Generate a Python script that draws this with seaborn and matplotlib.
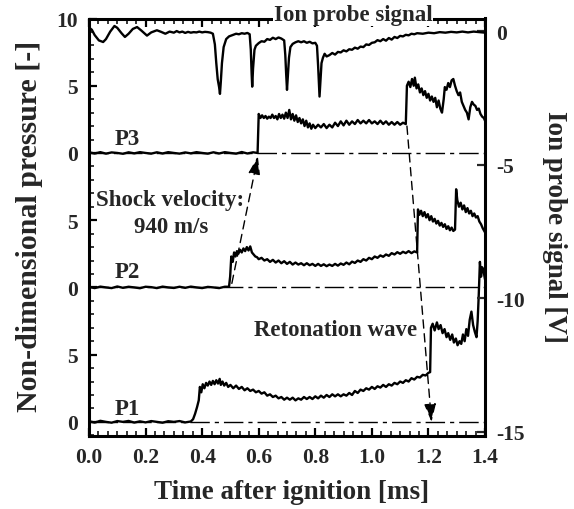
import numpy as np
import pandas as pd
import matplotlib
matplotlib.use("Agg")
import matplotlib.pyplot as plt
import matplotlib.transforms as mtransforms
from matplotlib.ticker import AutoMinorLocator, FixedLocator
import seaborn as sns

# ---------------- data ----------------
# time [ms], non-dimensional pressure (relative to each trace's own zero)
P1_POINTS = [
    (0.00, 0.05), (0.02, -0.05), (0.04, 0.08), (0.06, 0.0), (0.08, -0.06), (0.10, 0.06), (0.12, 0.0),
    (0.14, 0.07), (0.16, -0.05), (0.18, 0.04), (0.20, -0.04), (0.22, 0.06), (0.24, 0.0), (0.26, -0.06),
    (0.28, 0.05), (0.30, 0.0), (0.32, 0.06), (0.34, -0.04), (0.36, 0.03),
    (0.368, 0.2), (0.375, 0.6), (0.382, 1.1), (0.388, 1.6), (0.392, 2.6), (0.397, 2.2), (0.402, 2.8),
    (0.408, 2.5), (0.414, 2.9), (0.42, 2.7), (0.426, 3.0), (0.432, 2.75), (0.438, 3.05), (0.444, 2.8),
    (0.45, 3.1), (0.456, 2.85), (0.462, 3.2), (0.466, 2.75), (0.472, 3.0), (0.478, 2.7), (0.485, 2.9),
    (0.492, 2.6),
    (0.50, 2.75), (0.51, 2.5), (0.52, 2.7), (0.53, 2.45), (0.54, 2.6), (0.55, 2.35), (0.56, 2.5),
    (0.57, 2.3), (0.58, 2.4), (0.59, 2.2), (0.60, 2.3), (0.61, 2.1), (0.62, 2.2), (0.63, 1.95),
    (0.64, 2.05), (0.65, 1.85), (0.66, 1.95), (0.67, 1.75), (0.68, 1.85), (0.69, 1.65), (0.70, 1.8),
    (0.71, 1.65), (0.72, 1.8), (0.73, 1.6), (0.74, 1.75), (0.75, 1.65), (0.76, 1.85), (0.77, 1.7),
    (0.78, 1.85), (0.79, 1.7), (0.80, 1.9), (0.81, 1.75), (0.82, 1.95), (0.83, 1.8), (0.84, 2.0),
    (0.85, 1.85), (0.86, 2.05), (0.87, 1.9), (0.88, 2.05), (0.89, 1.9), (0.90, 2.05), (0.91, 1.95),
    (0.92, 2.15), (0.93, 2.0), (0.94, 2.3), (0.95, 2.15), (0.96, 2.4), (0.97, 2.3), (0.98, 2.5),
    (0.99, 2.4), (1.00, 2.6), (1.01, 2.45), (1.02, 2.65), (1.03, 2.55), (1.04, 2.75), (1.05, 2.6),
    (1.06, 2.8), (1.07, 2.7), (1.08, 2.9), (1.09, 2.8), (1.10, 3.0), (1.11, 2.9), (1.12, 3.1),
    (1.13, 3.0), (1.14, 3.25), (1.15, 3.15), (1.16, 3.35), (1.17, 3.3), (1.18, 3.5), (1.19, 3.45),
    (1.20, 3.65),
    (1.206, 3.7), (1.209, 7.0), (1.215, 7.3), (1.222, 6.8), (1.23, 7.4), (1.236, 6.9), (1.243, 7.2),
    (1.25, 6.6), (1.257, 6.9), (1.264, 6.3), (1.27, 6.6), (1.277, 6.1), (1.284, 6.5), (1.29, 5.9),
    (1.297, 6.2), (1.303, 5.7), (1.31, 6.0), (1.316, 5.8), (1.322, 6.5), (1.328, 6.0), (1.334, 6.9),
    (1.34, 6.4), (1.346, 7.6), (1.352, 8.2), (1.358, 7.2), (1.364, 6.7), (1.37, 6.3), (1.374, 7.5),
    (1.378, 9.5), (1.382, 11.9), (1.386, 10.8), (1.39, 11.5), (1.395, 11.2), (1.40, 10.6),
]

P2_POINTS = [
    (0.00, 0.04), (0.02, -0.05), (0.04, 0.06), (0.06, 0.0), (0.08, -0.05), (0.10, 0.07), (0.12, -0.03),
    (0.14, 0.05), (0.16, 0.0), (0.18, -0.06), (0.20, 0.05), (0.22, 0.02), (0.24, -0.05), (0.26, 0.06),
    (0.28, 0.0), (0.30, -0.04), (0.32, 0.05), (0.34, -0.03), (0.36, 0.06), (0.38, 0.0), (0.40, -0.05),
    (0.42, 0.04), (0.44, 0.0), (0.46, -0.05), (0.48, 0.05),
    (0.495, 0.05), (0.499, 0.8), (0.503, 2.3), (0.508, 1.9), (0.513, 2.6), (0.518, 2.3), (0.523, 2.7),
    (0.528, 2.5), (0.534, 2.8), (0.54, 2.6), (0.546, 2.9), (0.552, 2.7), (0.558, 3.0), (0.564, 2.75),
    (0.57, 3.05), (0.576, 2.6), (0.582, 2.45), (0.588, 2.3), (0.594, 2.25),
    (0.60, 2.1), (0.61, 2.2), (0.62, 2.0), (0.63, 2.1), (0.64, 1.9), (0.65, 2.05), (0.66, 1.85),
    (0.67, 2.0), (0.68, 1.8), (0.69, 1.95), (0.70, 1.75), (0.71, 1.9), (0.72, 1.7), (0.73, 1.85),
    (0.74, 1.7), (0.75, 1.8), (0.76, 1.65), (0.77, 1.8), (0.78, 1.65), (0.79, 1.75), (0.80, 1.6),
    (0.81, 1.75), (0.82, 1.6), (0.83, 1.72), (0.84, 1.58), (0.85, 1.7), (0.86, 1.6), (0.87, 1.75),
    (0.88, 1.62), (0.89, 1.78), (0.90, 1.68), (0.91, 1.85), (0.92, 1.72), (0.93, 1.92), (0.94, 1.82),
    (0.95, 2.0), (0.96, 1.9), (0.97, 2.1), (0.98, 2.0), (0.99, 2.2), (1.00, 2.1), (1.01, 2.3),
    (1.02, 2.2), (1.03, 2.38), (1.04, 2.28), (1.05, 2.45), (1.06, 2.35), (1.07, 2.55), (1.08, 2.45),
    (1.09, 2.62), (1.10, 2.5), (1.11, 2.65), (1.12, 2.55), (1.13, 2.7), (1.14, 2.55), (1.15, 2.68),
    (1.16, 2.6),
    (1.163, 5.8), (1.168, 5.4), (1.174, 5.7), (1.18, 5.3), (1.186, 5.6), (1.192, 5.2), (1.198, 5.45),
    (1.204, 5.0), (1.21, 5.3), (1.216, 4.9), (1.222, 5.1), (1.228, 4.75), (1.234, 4.95), (1.24, 4.6),
    (1.246, 4.8), (1.252, 4.5), (1.258, 4.7), (1.264, 4.35), (1.27, 4.55), (1.276, 4.25), (1.282, 4.45),
    (1.288, 4.2), (1.294, 4.3), (1.298, 7.3), (1.302, 6.5), (1.308, 6.0), (1.314, 6.3), (1.32, 5.8),
    (1.326, 6.1), (1.332, 5.6), (1.338, 5.9), (1.344, 5.5), (1.35, 5.7), (1.356, 5.3), (1.362, 5.5),
    (1.368, 5.2), (1.374, 5.3), (1.38, 4.9), (1.386, 4.7), (1.392, 4.4), (1.40, 4.1),
]

P3_POINTS = [
    (0.00, 0.05), (0.02, -0.04), (0.04, 0.06), (0.06, -0.05), (0.08, 0.04), (0.10, 0.0), (0.12, -0.06),
    (0.14, 0.05), (0.16, -0.03), (0.18, 0.06), (0.20, 0.0), (0.22, -0.05), (0.24, 0.05), (0.26, -0.04),
    (0.28, 0.06), (0.30, 0.0), (0.32, -0.05), (0.34, 0.04), (0.36, -0.03), (0.38, 0.06), (0.40, 0.0),
    (0.42, -0.05), (0.44, 0.05), (0.46, -0.04), (0.48, 0.06), (0.50, 0.0), (0.52, -0.05), (0.54, 0.07),
    (0.56, -0.04), (0.58, 0.05), (0.596, 0.0),
    (0.60, 2.9), (0.606, 2.6), (0.612, 2.8), (0.618, 2.6), (0.624, 2.75), (0.63, 2.55), (0.636, 2.7),
    (0.642, 2.6), (0.648, 2.85), (0.654, 2.6), (0.66, 2.75), (0.666, 2.5), (0.672, 2.9), (0.678, 2.6),
    (0.684, 2.85), (0.69, 2.55), (0.696, 3.0), (0.702, 2.6), (0.708, 3.2), (0.714, 2.5), (0.72, 2.9),
    (0.726, 2.4), (0.732, 2.8), (0.738, 2.3), (0.744, 2.6), (0.75, 2.2), (0.756, 2.5), (0.762, 2.0),
    (0.768, 2.4), (0.774, 1.9), (0.78, 2.2), (0.786, 1.8), (0.792, 2.1), (0.80, 1.85), (0.81, 2.1),
    (0.82, 1.9), (0.83, 2.15), (0.84, 1.85), (0.85, 2.1), (0.86, 1.9), (0.87, 2.25), (0.88, 2.0),
    (0.89, 2.35), (0.90, 2.05), (0.91, 2.4), (0.92, 2.1), (0.93, 2.35), (0.94, 2.15), (0.95, 2.45),
    (0.96, 2.2), (0.97, 2.4), (0.98, 2.2), (0.99, 2.45), (1.00, 2.2), (1.01, 2.35), (1.02, 2.15),
    (1.03, 2.4), (1.04, 2.15), (1.05, 2.35), (1.06, 2.1), (1.07, 2.3), (1.08, 2.1), (1.09, 2.3),
    (1.10, 2.1), (1.11, 2.25), (1.12, 2.15),
    (1.124, 5.0), (1.13, 5.3), (1.136, 4.9), (1.142, 5.5), (1.148, 5.0), (1.152, 5.6), (1.158, 4.8),
    (1.164, 5.1), (1.17, 4.5), (1.176, 4.8), (1.182, 4.3), (1.188, 4.6), (1.194, 4.1), (1.20, 4.4),
    (1.206, 3.9), (1.212, 4.2), (1.218, 3.8), (1.224, 4.1), (1.23, 3.4), (1.236, 3.9), (1.242, 3.3),
    (1.248, 3.0), (1.254, 4.0), (1.258, 4.9), (1.264, 4.7), (1.27, 5.2), (1.276, 4.9), (1.282, 5.4),
    (1.288, 5.5), (1.294, 5.0), (1.30, 4.6), (1.306, 4.3), (1.312, 4.5), (1.318, 3.8), (1.324, 3.5),
    (1.33, 3.2), (1.336, 3.0), (1.342, 2.5), (1.348, 3.4), (1.354, 3.8), (1.36, 3.6), (1.366, 3.5),
    (1.372, 3.2), (1.378, 3.3), (1.384, 2.9), (1.39, 2.7), (1.396, 2.6), (1.40, 2.4),
]

# time [ms], ion probe signal [V]
ION_POINTS = [
    (0.00, 0.13), (0.01, 0.05), (0.02, -0.15), (0.035, -0.35), (0.05, -0.41), (0.06, -0.3), (0.075, -0.02),
    (0.09, 0.19), (0.10, 0.12), (0.115, -0.08), (0.127, -0.22), (0.14, -0.1), (0.155, 0.08), (0.17, 0.15),
    (0.185, 0.02), (0.205, -0.17), (0.22, -0.05), (0.24, 0.03), (0.255, -0.03), (0.27, -0.1), (0.285, -0.02),
    (0.30, -0.06), (0.31, 0.0), (0.32, -0.05), (0.33, -0.02), (0.34, -0.07), (0.35, -0.03), (0.36, -0.06),
    (0.37, -0.04), (0.38, -0.05), (0.39, -0.02), (0.40, -0.05), (0.41, -0.03), (0.42, -0.04), (0.43, -0.06),
    (0.438, -0.1), (0.445, -0.5), (0.45, -1.2), (0.455, -1.8), (0.46, -2.1), (0.463, -2.35), (0.466, -1.9),
    (0.47, -1.2), (0.476, -0.6), (0.485, -0.3), (0.495, -0.2), (0.51, -0.14), (0.52, -0.1), (0.53, -0.12),
    (0.54, -0.08), (0.55, -0.1), (0.56, -0.07), (0.568, -0.12), (0.572, -0.7), (0.575, -1.6), (0.577, -2.08),
    (0.58, -1.4), (0.585, -0.7), (0.59, -0.55), (0.60, -0.45), (0.61, -0.38), (0.62, -0.4), (0.63, -0.3),
    (0.64, -0.33), (0.65, -0.25), (0.66, -0.3), (0.67, -0.24), (0.68, -0.28), (0.69, -0.35), (0.694, -0.9),
    (0.697, -1.6), (0.70, -2.2), (0.703, -1.7), (0.707, -1.0), (0.712, -0.6), (0.72, -0.48), (0.73, -0.42),
    (0.74, -0.38), (0.75, -0.42), (0.76, -0.38), (0.77, -0.44), (0.78, -0.4), (0.79, -0.46), (0.80, -0.44),
    (0.806, -0.55), (0.81, -1.3), (0.813, -2.0), (0.815, -2.45), (0.818, -1.9), (0.822, -1.2), (0.827, -1.0),
    (0.833, -0.85), (0.84, -0.95), (0.85, -0.9), (0.86, -0.82), (0.87, -0.88), (0.88, -0.78), (0.89, -0.8),
    (0.90, -0.72), (0.91, -0.76), (0.92, -0.68), (0.93, -0.7), (0.94, -0.62), (0.95, -0.66), (0.96, -0.58),
    (0.97, -0.6), (0.98, -0.5), (0.99, -0.52), (1.00, -0.44), (1.01, -0.42), (1.02, -0.34), (1.03, -0.38),
    (1.04, -0.3), (1.05, -0.36), (1.06, -0.26), (1.07, -0.32), (1.08, -0.22), (1.09, -0.26), (1.10, -0.18),
    (1.11, -0.2), (1.12, -0.14), (1.13, -0.16), (1.14, -0.1), (1.15, -0.12), (1.16, -0.08), (1.18, -0.1),
    (1.20, -0.06), (1.22, -0.08), (1.24, -0.04), (1.26, -0.06), (1.28, -0.03), (1.30, -0.05), (1.32, -0.02),
    (1.34, -0.05), (1.36, -0.02), (1.38, -0.04), (1.40, -0.06),
]

TRACE_NAMES = ["P1", "P2", "P3"]
TRACE_OFFSETS = [0, 10, 20]          # vertical stacking of the pressure traces
TRACE_LABEL_POS = [(0.136, 0.97), (0.136, 11.15), (0.136, 21.05)]

LEFT_TICKS = [0, 5, 10, 15, 20, 25, 30]
LEFT_TICK_LABELS = ["0", "5", "0", "5", "0", "5", "10"]
RIGHT_TICKS = [0, -5, -10, -15]
X_TICKS = [0.0, 0.2, 0.4, 0.6, 0.8, 1.0, 1.2, 1.4]

SHOCK_ARROW = [(0.505, 10.3), (0.597, 19.75)]
RETONATION_ARROW = [(1.124, 22.0), (1.211, 0.0)]

# ---------------- style ----------------
sns.set_style("ticks")
plt.rcParams["font.family"] = ["Liberation Serif", "DejaVu Serif"]
plt.rcParams["font.weight"] = "bold"
plt.rcParams["axes.labelweight"] = "bold"

W, H = 574, 510
fig = plt.figure(figsize=(W / 100, H / 100), dpi=100)
ax = fig.add_axes([89 / W, 1 - 437 / H, 396 / W, (437 - 19.5) / H])
ax2 = ax.twinx()

ax.set_xlim(0, 1.4)
ax.set_ylim(-1.05, 30)
ax2.set_ylim(-15.15, 0.47)

# dash-dot zero lines of each pressure trace
for off in TRACE_OFFSETS:
    ax.axhline(off, color="k", lw=1.0, dashes=(14, 3.6, 3, 3.6), zorder=1)

# pressure traces
point_sets = [P1_POINTS, P2_POINTS, P3_POINTS]
for name, pts, off, lpos in zip(TRACE_NAMES, point_sets, TRACE_OFFSETS, TRACE_LABEL_POS):
    df = pd.DataFrame(pts, columns=["t", "p"])
    df["y"] = df["p"] + off
    sns.lineplot(data=df, x="t", y="y", ax=ax, color="k", lw=1.7,
                 estimator=None, sort=False, zorder=3)
    ax.text(lpos[0], lpos[1], name, ha="center", va="center", fontsize=16.5,
            fontweight="bold")

# ion probe signal on the right axis
ion = pd.DataFrame(ION_POINTS, columns=["t", "v"])
sns.lineplot(data=ion, x="t", y="v", ax=ax2, color="k", lw=1.7,
             estimator=None, sort=False, zorder=3)

# arrows
for (start, end) in [SHOCK_ARROW, RETONATION_ARROW]:
    ax.annotate("", xy=end, xytext=start,
                arrowprops=dict(arrowstyle="-|>,head_length=1.1,head_width=0.36",
                                lw=1.0, ls=(0, (6, 4)), color="k",
                                shrinkA=0, shrinkB=0), zorder=4)

ax.text(0.286, 16.55, "Shock velocity:", ha="center", va="center", fontsize=16.5, fontweight="bold")
ax.text(0.289, 14.55, "940 m/s", ha="center", va="center", fontsize=16.5, fontweight="bold")
ax.text(0.871, 6.84, "Retonation wave", ha="center", va="center", fontsize=16.5, fontweight="bold")

trans = mtransforms.blended_transform_factory(ax2.transData, ax2.transAxes)
ax2.text(0.933, 1.009, "Ion probe signal", transform=trans, ha="center", va="center",
         fontsize=16.5, fontweight="bold", zorder=10, clip_on=False,
         bbox=dict(facecolor="white", edgecolor="none", pad=0.5))

# ticks
ax.set_xticks(X_TICKS)
ax.set_xticklabels([f"{v:.1f}" for v in X_TICKS])
ax.xaxis.set_minor_locator(AutoMinorLocator(6))
ax.yaxis.set_major_locator(FixedLocator(LEFT_TICKS))
ax.set_yticklabels(LEFT_TICK_LABELS)
ax.yaxis.set_minor_locator(AutoMinorLocator(5))
ax.tick_params(axis="both", which="major", direction="in", length=6, width=1.6,
               labelsize=15.5, pad=8, top=True, right=False, color="k")
ax.tick_params(axis="both", which="minor", direction="in", length=3.5, width=1.3,
               top=True, right=False)
ax2.set_yticks(RIGHT_TICKS)
ax2.set_yticklabels([str(v) for v in RIGHT_TICKS])
ax2.tick_params(axis="y", which="major", direction="in", length=6, width=1.6,
                labelsize=15.5, pad=8)

ax.set_xlabel("")
ax.set_ylabel("")
ax2.set_ylabel("")
for s in ax.spines.values():
    s.set_linewidth(2.2)
    s.set_color("k")
ax.spines["right"].set_visible(False)
for k in ["top", "bottom", "left"]:
    ax2.spines[k].set_visible(False)
ax2.spines["right"].set_linewidth(2.2)
ax2.spines["right"].set_color("k")

# axis titles
fig.text(291.5 / W, 1 - 493 / H, "Time after ignition [ms]", ha="center", va="center",
         fontsize=19.5, fontweight="bold")
fig.text(30 / W, 1 - 226 / H, "Non-dimensional pressure [-]", ha="center", va="center",
         rotation=90, fontsize=21.5, fontweight="bold")
fig.text(555 / W, 1 - 227 / H, "Ion probe signal [V]", ha="center", va="center",
         rotation=-90, fontsize=19.5, fontweight="bold")

fig.savefig("out.png", dpi=100)
